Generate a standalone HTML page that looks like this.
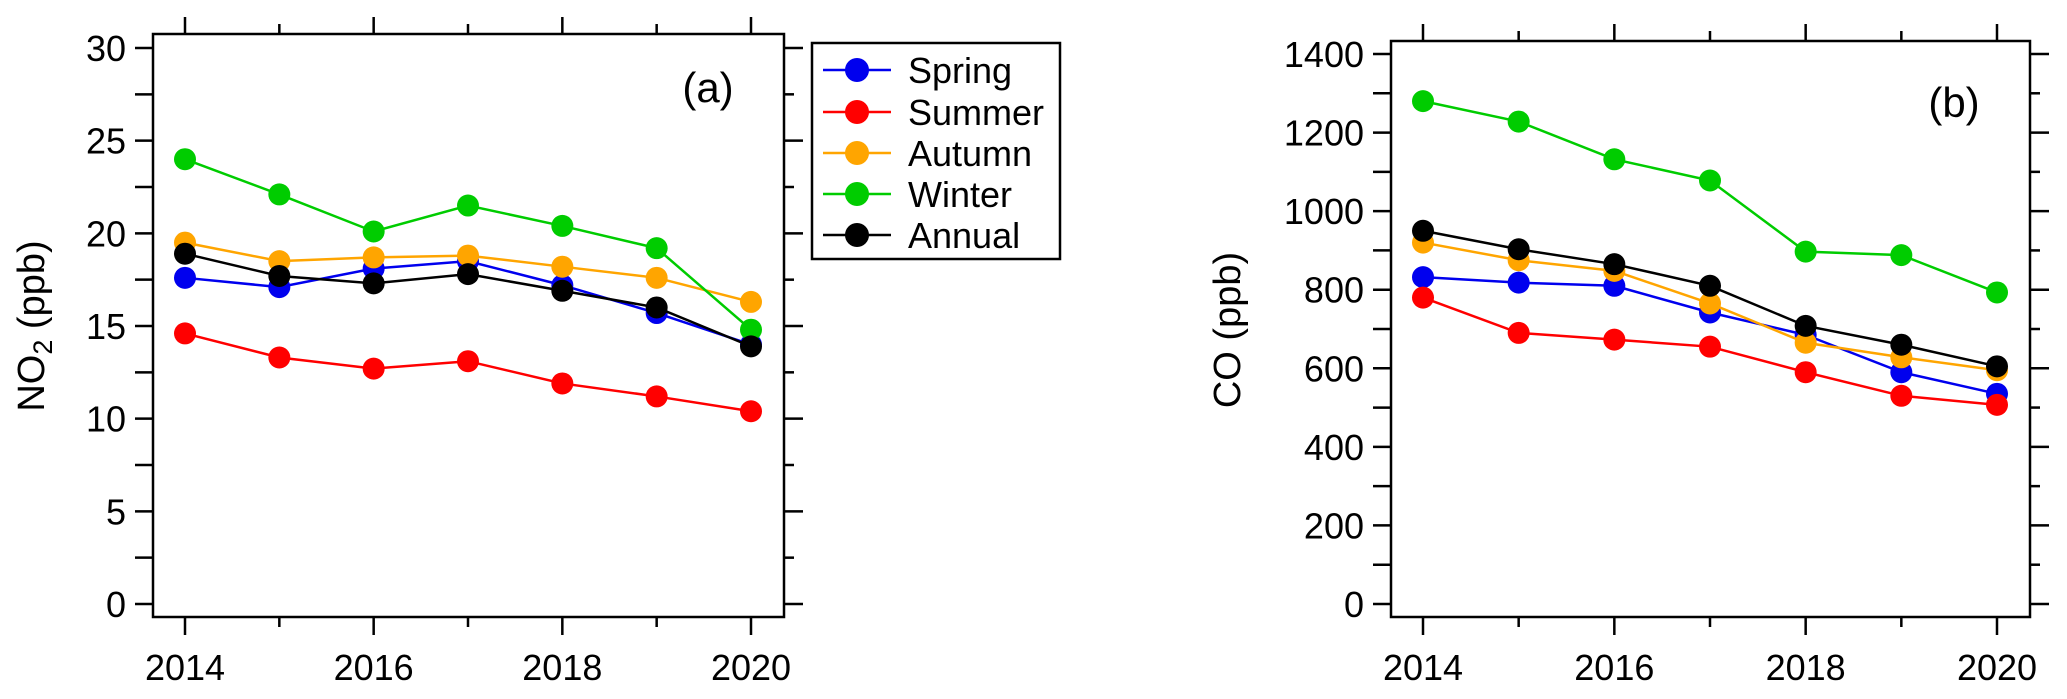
<!DOCTYPE html>
<html><head><meta charset="utf-8"><style>
body{margin:0;background:#fff}
svg{display:block;font-family:"Liberation Sans",Arial,sans-serif}
</style></head><body>
<svg id="chart" width="2067" height="699" viewBox="0 0 2067 699" xmlns="http://www.w3.org/2000/svg"></svg>
<script>
const years=[2014,2015,2016,2017,2018,2019,2020];
const seriesNames=["Spring","Summer","Autumn","Winter","Annual"];
const seriesColors=["#0000ee","#ff0000","#ffa500","#00cc00","#000000"];
const no2Spring=[17.6,17.1,18.1,18.5,17.2,15.7,14.0];
const no2Summer=[14.6,13.3,12.7,13.1,11.9,11.2,10.4];
const no2Autumn=[19.5,18.5,18.7,18.8,18.2,17.6,16.3];
const no2Winter=[24.0,22.1,20.1,21.5,20.4,19.2,14.8];
const no2Annual=[18.9,17.7,17.3,17.8,16.9,16.0,13.9];
const coSpring=[832,818,810,742,685,590,535];
const coSummer=[780,690,673,655,590,530,507];
const coAutumn=[920,875,848,765,665,628,595];
const coWinter=[1280,1228,1132,1078,897,888,793];
const coAnnual=[950,903,865,810,708,660,605];
const no2Ticks=[0,5,10,15,20,25,30];
const coTicks=[0,200,400,600,800,1000,1200,1400];
const xTickLabels=[2014,2016,2018,2020];

const NS="http://www.w3.org/2000/svg";
const svg=document.getElementById('chart');
function mk(tag,attrs,parent){const e=document.createElementNS(NS,tag);for(const k in attrs)e.setAttribute(k,attrs[k]);(parent||svg).appendChild(e);return e;}

function panel(cfg){
  const g=mk('g',{});
  
  
  const xs=v=>cfg.x0+(v-2014)/6*(cfg.x1-cfg.x0);
  const ys=v=>cfg.y0+(v/cfg.ymax)*(cfg.yTop-cfg.y0);
  const box=mk('rect',{x:cfg.L,y:cfg.T,width:cfg.R-cfg.L,height:cfg.B-cfg.T,fill:'none',stroke:'#000','stroke-width':2.5},g);
  
  
  years.forEach(y=>{
    const x=xs(y), major=(y%2===0);
    mk('line',{x1:x,x2:x,y1:cfg.B,y2:cfg.B+(major?18:10),stroke:'#000','stroke-width':2.5},g);
    mk('line',{x1:x,x2:x,y1:cfg.T,y2:cfg.T-(major?17:10),stroke:'#000','stroke-width':2.5},g);
  });
  xTickLabels.forEach(y=>{
    const t=mk('text',{x:xs(y),y:680,'text-anchor':'middle','font-size':36},g);
    t.textContent=y;
    
    
  });
  for(let v=0;v<=cfg.ymax+1e-9;v+=cfg.minor){
    const y=ys(v);
    if(y<cfg.T-1)continue;
    const major=Math.abs(v/cfg.major-Math.round(v/cfg.major))<1e-6;
    mk('line',{x1:cfg.L-18,x2:cfg.L,y1:y,y2:y,stroke:'#000','stroke-width':2.5},g);
    mk('line',{x1:cfg.R,x2:cfg.R+(major?19:10),y1:y,y2:y,stroke:'#000','stroke-width':2.5},g);
  }
  cfg.ticks.forEach(v=>{
    const t=mk('text',{x:cfg.L-27,y:ys(v)+13,'text-anchor':'end','font-size':36},g);
    t.textContent=v;
    
    
  });
  const yt=mk('text',{x:0,y:0,'text-anchor':'middle','font-size':38,transform:`translate(${cfg.titleX},${cfg.titleY}) rotate(-90)`},g);
  yt.innerHTML=cfg.title;
  
  
  const pl=mk('text',{x:cfg.lblX,y:cfg.lblY,'text-anchor':'middle','font-size':42},g);
  pl.textContent=cfg.lbl;
  
  
  cfg.data.forEach((arr,i)=>{
    const sg=mk('g',{},g);
    
    
    const pts=arr.map((v,j)=>xs(years[j])+','+ys(v)).join(' ');
    mk('polyline',{points:pts,fill:'none',stroke:seriesColors[i],'stroke-width':2.5},sg);
    arr.forEach((v,j)=>{
      const c=mk('circle',{cx:xs(years[j]),cy:ys(v),r:11,fill:seriesColors[i]},sg);
      
      
    });
  });
}

panel({name:'panel-a-no2',L:153,R:784,T:34,B:617,x0:185,x1:751,y0:604,yTop:48,ymax:30,major:5,minor:2.5,
  ticks:no2Ticks,title:'NO<tspan font-size="27" dy="8">2</tspan><tspan dy="-8"> (ppb)</tspan>',titleX:44,titleY:326,lbl:'(a)',lblX:708,lblY:102,
  data:[no2Spring,no2Summer,no2Autumn,no2Winter,no2Annual]});
panel({name:'panel-b-co',L:1391,R:2030,T:41,B:617,x0:1423,x1:1997,y0:604,yTop:54,ymax:1400,major:200,minor:100,
  ticks:coTicks,title:'CO  (ppb)',titleX:1240,titleY:330,lbl:'(b)',lblX:1954,lblY:117,
  data:[coSpring,coSummer,coAutumn,coWinter,coAnnual]});

const lg=mk('g',{});


mk('rect',{x:812,y:43,width:248,height:216,fill:'#fff',stroke:'#000','stroke-width':2.5},lg);
const legY=[70,112,153,194,235];
seriesNames.forEach((n,i)=>{
  const e=mk('g',{},lg);
  
  
  mk('line',{x1:823,x2:891,y1:legY[i],y2:legY[i],stroke:seriesColors[i],'stroke-width':2.5},e);
  mk('circle',{cx:857,cy:legY[i],r:12,fill:seriesColors[i]},e);
  const t=mk('text',{x:908,y:legY[i]+13,'font-size':36},e);
  t.textContent=n;
});
</script>
</body></html>
